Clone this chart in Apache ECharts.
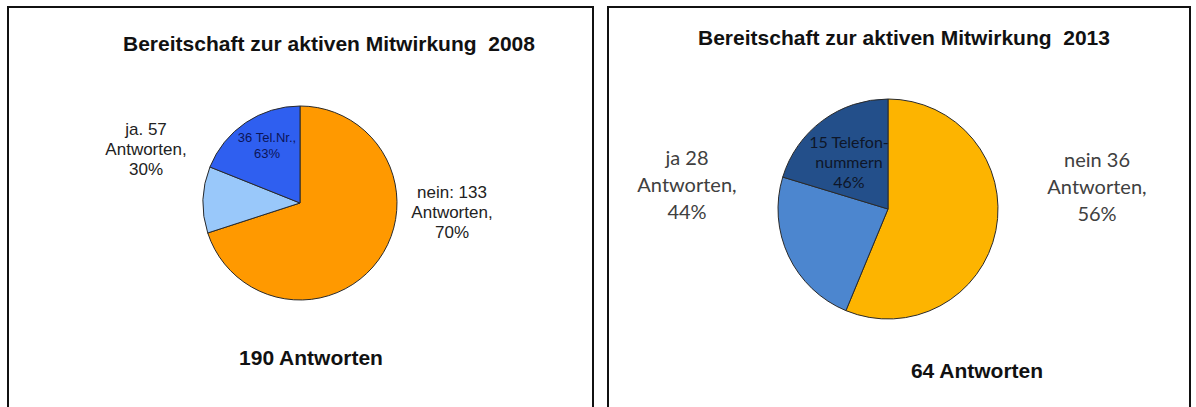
<!DOCTYPE html>
<html>
<head>
<meta charset="utf-8">
<script src="https://cdn.jsdelivr.net/npm/echarts@6/dist/echarts.min.js"></script>
<style>
html,body{margin:0;padding:0;background:#fff;}
#c{width:1196px;height:407px;}
</style>
</head>
<body>
<div id="c"></div>
<script>
// ---- data ----
const categories = ['nein', 'ja (ohne Tel.Nr.)', 'ja (mit Tel.Nr.)'];
const values2008 = [133, 21, 36];
const values2013 = [36, 15, 13];
const titles = ['Bereitschaft zur aktiven Mitwirkung  2008', 'Bereitschaft zur aktiven Mitwirkung  2013'];
const totals = ['190 Antworten', '64 Antworten'];
const labels2008 = ['nein: 133\nAntworten,\n70%', 'ja. 57\nAntworten,\n30%', '36 Tel.Nr.,\n63%'];
const labels2013 = ['nein 36\nAntworten,\n56%', 'ja 28\nAntworten,\n44%', '15 Telefon-\nnummern\n46%'];

const colors2008 = ['#FF9900', '#99C8FA', '#2F5FF0'];
const colors2013 = ['#FDB400', '#4C86CF', '#234F8A'];

const chart = echarts.init(document.getElementById('c'), null, {renderer: 'svg'});

function pieData(vals, cols) {
  return vals.map((v, i) => ({
    name: categories[i], value: v,
    itemStyle: {color: cols[i], borderColor: '#2a2a2a', borderWidth: 1}
  }));
}

function txt(text, x, y, font, fill, lh) {
  return {type: 'text', silent: true, z: 100, style: {text: text, x: x, y: y, font: font, fill: fill,
    textAlign: 'center', textVerticalAlign: 'middle', lineHeight: lh}};
}

const arial = '"Liberation Sans", Arial, sans-serif';
const cal = 'Lato, "Open Sans", sans-serif';

chart.setOption({
  animation: false,
  backgroundColor: '#fff',
  series: [
    {type: 'pie', center: [300, 203], radius: 97, startAngle: 90, clockwise: true, z: 2,
     label: {show: false}, labelLine: {show: false}, emphasis: {disabled: true},
     data: pieData(values2008, colors2008)},
    {type: 'pie', center: [888, 209], radius: 110, startAngle: 90, clockwise: true, z: 2,
     label: {show: false}, labelLine: {show: false}, emphasis: {disabled: true},
     data: pieData(values2013, colors2013)}
  ],
  graphic: {
    z: 100,
    elements: [
      {type: 'rect', silent: true, z: 100, shape: {x: 8, y: 7, width: 585, height: 430},
       style: {fill: 'none', stroke: '#111', lineWidth: 2}},
      {type: 'rect', silent: true, z: 100, shape: {x: 608, y: 7, width: 582, height: 430},
       style: {fill: 'none', stroke: '#111', lineWidth: 2}},
      txt(titles[0], 329, 43, 'bold 21px ' + arial, '#111', 24),
      txt(titles[1], 904, 37, 'bold 21px ' + arial, '#111', 24),
      txt(totals[0], 311, 357, 'bold 21px ' + arial, '#111', 24),
      txt(totals[1], 977, 370, 'bold 21px ' + arial, '#111', 24),
      txt(labels2008[0], 452, 212, '17px ' + arial, '#222', 20),
      txt(labels2008[1], 146, 149, '17px ' + arial, '#222', 20),
      txt(labels2008[2], 267, 145, '13px ' + arial, '#0c1558', 16),
      txt(labels2013[0], 1097, 186, '20px ' + cal, '#404040', 27),
      txt(labels2013[1], 687, 184, '20px ' + cal, '#404040', 27),
      txt(labels2013[2], 849, 161, '16px ' + cal, '#0e1628', 20)
    ]
  }
});
</script>
</body>
</html>
